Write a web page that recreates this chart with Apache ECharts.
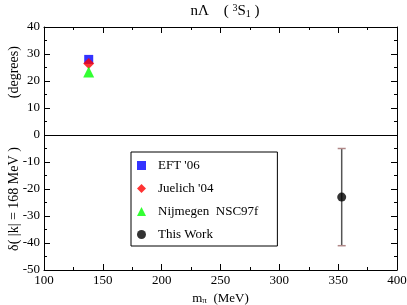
<!DOCTYPE html>
<html><head><meta charset="utf-8">
<script src="https://cdn.jsdelivr.net/npm/echarts@6/dist/echarts.min.js"></script>
<style>html,body{margin:0;padding:0;background:#fff}#c{width:407px;height:305px}</style>
</head><body><div id="c"></div>
<script>
var seriesNames = ["EFT '06", "Juelich '04", "Nijmegen  NSC97f", "This Work"];
var eftData = [[138, 28]];
var juelichData = [[138, 26.5]];
var nijmegenData = [[138, 23.3]];
var thisWorkData = [[353, -23]];
var thisWorkError = [[353, -5, -41]];
var xTicks = [100, 150, 200, 250, 300, 350, 400];
var yTicks = [-50, -40, -30, -20, -10, 0, 10, 20, 30, 40];

var font = 'Liberation Serif, Times New Roman, serif';
var chart = echarts.init(document.getElementById('c'));
var axisCommon = {
  axisLine: {show: true, onZero: false, lineStyle: {color: '#000', width: 1}},
  axisTick: {show: true, inside: true, length: 6, lineStyle: {color: '#000'}},
  minorTick: {show: true, splitNumber: 2, length: 3, lineStyle: {color: '#000'}},
  splitLine: {show: false}
};
chart.setOption({
  animation: false,
  backgroundColor: '#fff',
  title: {
    text: '{a|nΛ    ( }{s|3}{a|S}{b|1}{a| )}',
    left: 220, top: -2, textAlign: 'center',
    textStyle: {fontWeight: 'normal', rich: {
      a: {fontFamily: font, fontSize: 15, color: '#000', fontWeight: 'normal'},
      s: {fontFamily: font, fontSize: 10, color: '#000', fontWeight: 'normal', verticalAlign: 'top', padding: [0,0,6,0]},
      b: {fontFamily: font, fontSize: 10, color: '#000', fontWeight: 'normal', verticalAlign: 'bottom', padding: [6,0,0,0]}
    }}
  },
  grid: {left: 44, right: 10, top: 27, bottom: 35, containLabel: false, outerBoundsMode: 'none'},
  legend: {
    left: 131, top: 152, orient: 'vertical',
    padding: [7, 19, 5, 6],
    itemGap: 10, itemWidth: 9, itemHeight: 9,
    borderColor: '#000', borderWidth: 1,
    backgroundColor: '#fff',
    textStyle: {fontFamily: font, fontSize: 13, color: '#000', padding: [0, 0, 0, 7]},
    data: [
      {name: seriesNames[0], icon: 'rect'},
      {name: seriesNames[1], icon: 'diamond'},
      {name: seriesNames[2], icon: 'triangle'},
      {name: seriesNames[3], icon: 'circle'}
    ]
  },
  xAxis: [
    Object.assign({}, axisCommon, {
      type: 'value', min: 100, max: 400, interval: 50,
      name: '{a|m}{b|π}{a|  (MeV)}', nameLocation: 'middle', nameGap: 17,
      nameTextStyle: {rich: {
        a: {fontFamily: font, fontSize: 13, color: '#000'},
        b: {fontFamily: font, fontSize: 9, color: '#000', verticalAlign: 'bottom', padding: [5,0,0,0]}
      }},
      axisLabel: {fontFamily: font, fontSize: 13, color: '#000', margin: 4}
    }),
    Object.assign({}, axisCommon, {
      type: 'value', min: 100, max: 400, interval: 50, position: 'top',
      axisLabel: {show: false}
    })
  ],
  yAxis: [
    Object.assign({}, axisCommon, {
      type: 'value', min: -50, max: 40, interval: 10,
      name: 'δ( |k| = 168 MeV )              (degrees)', nameLocation: 'middle', nameGap: 23,
      nameMoveOverlap: false,
      nameTextStyle: {fontFamily: font, fontSize: 14, color: '#000'},
      axisLabel: {fontFamily: font, fontSize: 13, color: '#000', margin: 4}
    }),
    Object.assign({}, axisCommon, {
      type: 'value', min: -50, max: 40, interval: 10, position: 'right',
      axisLabel: {show: false}
    })
  ],
  series: [
    {name: seriesNames[0], type: 'scatter', symbol: 'rect', symbolSize: 9,
     itemStyle: {color: '#0000ff'}, data: eftData, z: 3,
     markLine: {silent: true, symbol: 'none', label: {show: false},
       lineStyle: {color: '#000', width: 1, type: 'solid'}, data: [{yAxis: 0}]}},
    {name: seriesNames[1], type: 'scatter', symbol: 'diamond', symbolSize: 11,
     itemStyle: {color: '#ff0000'}, data: juelichData, z: 4},
    {name: seriesNames[2], type: 'scatter', symbol: 'triangle', symbolSize: 11,
     itemStyle: {color: '#00ff00'}, data: nijmegenData, z: 5},
    {name: 'err', type: 'custom', data: thisWorkError, z: 2,
     renderItem: function (params, api) {
       var x = api.value(0);
       var top = api.coord([x, api.value(1)]);
       var bot = api.coord([x, api.value(2)]);
       var hw = 4;
       return {type: 'group', children: [
         {type: 'line', shape: {x1: top[0], y1: top[1], x2: bot[0], y2: bot[1]}, style: {stroke: '#555', lineWidth: 1.5}},
         {type: 'line', shape: {x1: top[0]-hw, y1: top[1], x2: top[0]+hw, y2: top[1]}, style: {stroke: '#b08888', lineWidth: 1.5}},
         {type: 'line', shape: {x1: bot[0]-hw, y1: bot[1], x2: bot[0]+hw, y2: bot[1]}, style: {stroke: '#b08888', lineWidth: 1.5}}
       ]};
     }},
    {name: seriesNames[3], type: 'scatter', symbol: 'circle', symbolSize: 9,
     itemStyle: {color: '#000'}, data: thisWorkData, z: 6}
  ]
});
</script></body></html>
